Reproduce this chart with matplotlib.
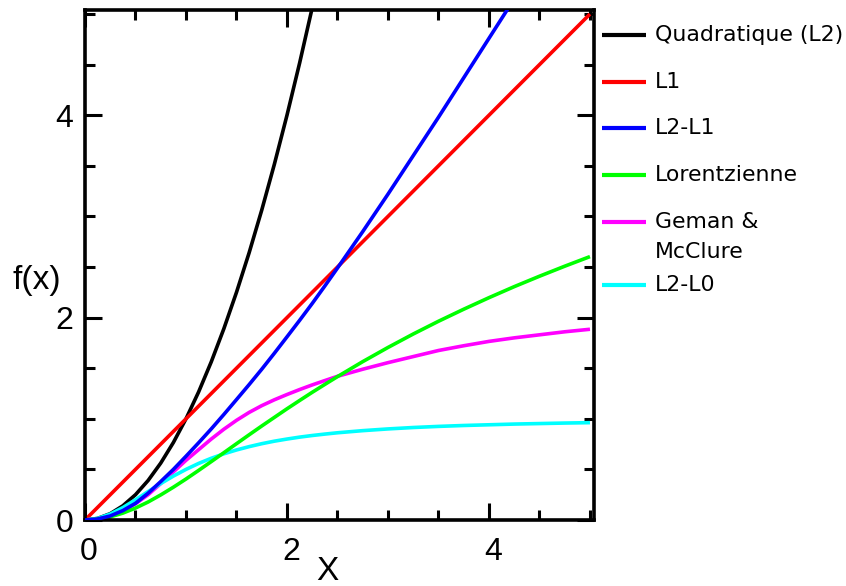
import matplotlib
matplotlib.use("Agg")
import matplotlib.pyplot as plt
from matplotlib.lines import Line2D
from matplotlib.ticker import MultipleLocator
import matplotlib.transforms as mtransforms

# ---- data ----
x_quad = [0, 0.125, 0.25, 0.375, 0.5, 0.625, 0.75, 0.875, 1.0, 1.125, 1.25,
          1.375, 1.5, 1.625, 1.75, 1.875, 2.0, 2.125, 2.25]
y_quad = [0, 0.0156, 0.0625, 0.1406, 0.25, 0.3906, 0.5625, 0.7656, 1.0, 1.2656,
          1.5625, 1.8906, 2.25, 2.6406, 3.0625, 3.5156, 4.0, 4.5156, 5.0625]

x_all = [0, 0.125, 0.25, 0.375, 0.5, 0.625, 0.75, 0.875, 1.0, 1.125, 1.25,
         1.375, 1.5, 1.625, 1.75, 1.875, 2.0, 2.125, 2.25, 2.375, 2.5, 2.75,
         3.0, 3.25, 3.5, 3.75, 4.0, 4.25, 4.5, 4.75, 5.0]
y_l1 = [0, 0.125, 0.25, 0.375, 0.5, 0.625, 0.75, 0.875, 1.0, 1.125, 1.25,
        1.375, 1.5, 1.625, 1.75, 1.875, 2.0, 2.125, 2.25, 2.375, 2.5, 2.75,
        3.0, 3.25, 3.5, 3.75, 4.0, 4.25, 4.5, 4.75, 5.0]

x_l2l1 = [0, 0.125, 0.25, 0.375, 0.5, 0.625, 0.75, 0.875, 1.0, 1.125, 1.25,
          1.375, 1.5, 1.625, 1.75, 1.875, 2.0, 2.125, 2.25, 2.375, 2.5, 2.75,
          3.0, 3.25, 3.5, 3.75, 4.0, 4.25]
y_l2l1 = [0, 0.01, 0.04, 0.093, 0.165, 0.265, 0.38, 0.50, 0.63, 0.763, 0.90,
          1.043, 1.19, 1.338, 1.49, 1.648, 1.81, 1.973, 2.14, 2.313, 2.49, 2.85,
          3.22, 3.60, 3.98, 4.37, 4.76, 5.15]

y_lorentz = [0, 0.008, 0.031, 0.068, 0.118, 0.178, 0.248, 0.324, 0.405, 0.490,
             0.577, 0.665, 0.754, 0.842, 0.929, 1.014, 1.099, 1.181, 1.262,
             1.340, 1.417, 1.565, 1.705, 1.838, 1.964, 2.083, 2.197, 2.306,
             2.409, 2.508, 2.603]

y_geman = [0, 0.01, 0.04, 0.092, 0.16, 0.25, 0.36, 0.475, 0.59, 0.695, 0.80,
           0.897, 0.985, 1.063, 1.13, 1.188, 1.24, 1.289, 1.335, 1.378, 1.42,
           1.49, 1.555, 1.615, 1.675, 1.722, 1.765, 1.80, 1.83, 1.86, 1.885]

y_l2l0 = [0, 0.015, 0.059, 0.123, 0.200, 0.281, 0.360, 0.434, 0.500, 0.559,
          0.610, 0.654, 0.692, 0.725, 0.754, 0.779, 0.800, 0.819, 0.835, 0.849,
          0.862, 0.883, 0.900, 0.914, 0.925, 0.934, 0.941, 0.948, 0.953, 0.958,
          0.962]

labels = ["Quadratique (L2)", "L1", "L2-L1", "Lorentzienne", "Geman &\nMcClure", "L2-L0"]
colors = ["#000000", "#ff0000", "#0000ff", "#00ff00", "#ff00ff", "#00ffff"]
x_ticks = [0, 2, 4]
y_ticks = [0, 2, 4]

# ---- figure ----
W, H = 846, 586
fig = plt.figure(figsize=(W / 100, H / 100), dpi=100)
ax = fig.add_axes([85 / W, 1 - 520 / H, (594 - 85) / W, (520 - 10) / H])

series = [
    (x_quad, y_quad, 2.1),
    (x_all, y_l1, 2.2),
    (x_l2l1, y_l2l1, 2.6),
    (x_all, y_lorentz, 2.5),
    (x_all, y_geman, 2.3),
    (x_all, y_l2l0, 2.4),
]
for (xs, ys, z), c in zip(series, colors):
    ax.plot(xs, ys, color=c, lw=2.6, zorder=z, solid_capstyle="butt",
            solid_joinstyle="round")

ax.set_xlim(0, 5.04)
ax.set_ylim(0, 5.04)
ax.set_xticks(x_ticks)
ax.set_yticks(y_ticks)
ax.set_xticklabels([str(v) for v in x_ticks])
ax.set_yticklabels([str(v) for v in y_ticks])
ax.xaxis.set_minor_locator(MultipleLocator(0.5))
ax.yaxis.set_minor_locator(MultipleLocator(0.5))

tick_font = "Liberation Sans"
ax.tick_params(which="both", direction="in", top=True, right=True, width=2.2, color="black")
ax.tick_params(which="major", length=12.5)
ax.tick_params(which="minor", length=7.5)
ax.tick_params(axis="x", which="major", pad=12, labelsize=23)
ax.tick_params(axis="y", which="major", pad=8.5, labelsize=23)
for lab in ax.get_xticklabels() + ax.get_yticklabels():
    lab.set_fontfamily(tick_font)
offset = mtransforms.ScaledTranslation(4 / 100, 0, fig.dpi_scale_trans)
for lab in ax.get_xticklabels():
    lab.set_transform(lab.get_transform() + offset)

for sp in ax.spines.values():
    sp.set_linewidth(2.6)

ax.set_xlabel("X", fontsize=24, fontfamily=tick_font)
ax.xaxis.set_label_coords((327 - 85) / 509, (520 - 572) / 510)
ax.xaxis.label.set_va("center")
ax.set_ylabel("f(x)", fontsize=24, fontfamily=tick_font, rotation=0)
ax.yaxis.set_label_coords((37 - 85) / 509, (520 - 280) / 510)
ax.yaxis.label.set_va("center")
ax.yaxis.label.set_ha("center")

# ---- legend drawn manually to the right of the axes ----
row_y = [35, 81.7, 128.3, 175, 221.7, 285]
for lab, c, yy in zip(labels, colors, row_y):
    fy = 1 - yy / H
    fig.add_artist(Line2D([602 / W, 646 / W], [fy, fy], color=c, lw=3.0,
                          transform=fig.transFigure, solid_capstyle="butt"))
    for i, part in enumerate(lab.split("\n")):
        fig.text(655 / W, 1 - (yy + i * 30) / H, part, fontsize=15.8,
                 fontfamily="DejaVu Sans", va="center", ha="left")

fig.savefig("out.png", dpi=100)
